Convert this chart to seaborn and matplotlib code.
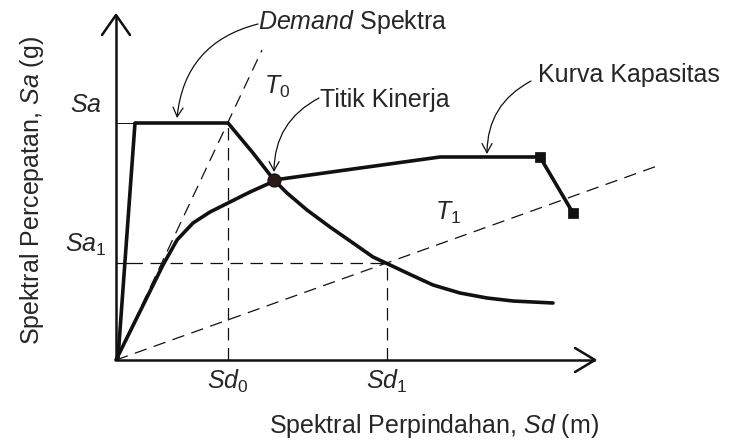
import numpy as np
import pandas as pd
import matplotlib
matplotlib.use("Agg")
import matplotlib.pyplot as plt
import seaborn as sns

# Capacity spectrum method: demand spectrum vs. capacity curve (schematic units)
demand_sd = [2, 19, 112, 137, 158, 171, 191, 214, 237, 257, 272, 291, 317, 344, 371, 397, 437]
demand_sa = [2, 237, 237, 207, 180, 167, 150, 133, 117, 103, 96, 87, 75, 67, 62, 59, 57]

capacity_sd = [0, 47, 61, 77, 94, 114, 134, 154, 158, 237, 324, 424, 457]
capacity_sa = [0, 95, 120, 137, 148, 158, 168, 177, 180, 191, 203, 203, 147]

perf_sd, perf_sa = 158, 180            # performance point (Titik Kinerja)
cap_ends_sd = [424, 457]               # capacity curve end markers
cap_ends_sa = [203, 147]

t0_sd, t0_sa = [0, 146], [0, 310]      # initial period line T0
t1_sd, t1_sa = [0, 544], [0, 195]      # effective period line T1

sd0, sd1 = 112, 271
sa_top, sa1 = 237, 97

sns.set_theme(style="white")
plt.rcParams["font.family"] = ["Liberation Sans", "DejaVu Sans"]
plt.rcParams["mathtext.fontset"] = "custom"
plt.rcParams["mathtext.rm"] = "Liberation Sans"
plt.rcParams["mathtext.it"] = "Liberation Sans:italic"

FS = 18
INK = "#111111"

fig = plt.figure(figsize=(7.31, 4.42), dpi=100)
ax = fig.add_axes([0, 0, 1, 1])
ax.set_xlim(-116, 615)
ax.set_ylim(-82, 360)
ax.axis("off")

line = dict(ax=ax, sort=False, estimator=None, legend=False)
dash = dict(color=INK, lw=0.9, linestyle=(0, (10, 6)))

# period lines
sns.lineplot(x=t0_sd, y=t0_sa, **line, **dash)
sns.lineplot(x=t1_sd, y=t1_sa, **line, **dash)

# reference guides
sns.lineplot(x=[sd0, sd0], y=[0, sa_top], **line, **dash)
sns.lineplot(x=[sd1, sd1], y=[0, sa1], **line, **dash)
sns.lineplot(x=[14, sd1], y=[sa1, sa1], **line, **dash)
sns.lineplot(x=[0, 14], y=[sa1, sa1], **line, color=INK, lw=0.9)
sns.lineplot(x=[0, 19], y=[sa_top, sa_top], **line, color=INK, lw=0.7)

# demand spectrum and capacity curve
demand = pd.DataFrame({"Sd": demand_sd, "Sa": demand_sa})
capacity = pd.DataFrame({"Sd": capacity_sd, "Sa": capacity_sa})
sns.lineplot(data=demand, x="Sd", y="Sa", **line, color=INK, lw=2.6)
sns.lineplot(data=capacity, x="Sd", y="Sa", **line, color=INK, lw=2.6)
for l in ax.lines[-2:]:
    l.set_solid_joinstyle("round")

sns.scatterplot(x=cap_ends_sd, y=cap_ends_sa, ax=ax, marker="s", s=45,
                color=INK, edgecolor=INK, zorder=5)
sns.scatterplot(x=[perf_sd], y=[perf_sa], ax=ax, marker="o", s=90,
                color="#2a1a1a", edgecolor=INK, zorder=6)

# coordinate axes with open arrowheads
ax.plot([0, 0], [0, 345], color=INK, lw=1.8, solid_capstyle="butt")
ax.plot([-14, 0, 14], [325, 345, 325], color=INK, lw=1.8)
ax.plot([0, 479], [0, 0], color=INK, lw=1.8, solid_capstyle="butt")
ax.plot([459, 479, 459], [12, 0, -12], color=INK, lw=1.8)

# tick-like labels
ax.text(-14, 255, r"$\mathit{Sa}$", fontsize=FS, ha="right", va="center")
ax.text(-10, 115, r"$\mathit{Sa}_\mathrm{1}$", fontsize=FS, ha="right", va="center")
ax.text(sd0, -21, r"$\mathit{Sd}_\mathrm{0}$", fontsize=FS, ha="center", va="center")
ax.text(sd1, -21, r"$\mathit{Sd}_\mathrm{1}$", fontsize=FS, ha="center", va="center")
ax.text(161, 273, r"$\mathit{T}_\mathrm{0}$", fontsize=FS, ha="center", va="center")
ax.text(332, 147, r"$\mathit{T}_\mathrm{1}$", fontsize=FS, ha="center", va="center")

# axis titles
ax.text(318, -66, r"Spektral Perpindahan, $\mathit{Sd}$ (m)", fontsize=FS,
        ha="center", va="center")
ax.text(-84, 170, r"Spektral Percepatan, $\mathit{Sa}$ (g)", fontsize=FS,
        ha="center", va="center", rotation=90)

# callouts
arrow = dict(arrowstyle="->,head_length=0.55,head_width=0.3", color=INK, lw=0.9,
             shrinkA=0, shrinkB=0)
ax.text(142, 338, r"$\mathit{Demand}$ Spektra", fontsize=FS, ha="left", va="center")
ax.annotate("", xy=(61, 242), xytext=(142, 336),
            arrowprops=dict(connectionstyle="arc3,rad=0.35", **arrow))
ax.text(204, 260, "Titik Kinerja", fontsize=FS, ha="left", va="center")
ax.annotate("", xy=(158, 188), xytext=(203, 262),
            arrowprops=dict(connectionstyle="arc3,rad=0.3", **arrow))
ax.text(422, 285, "Kurva Kapasitas", fontsize=FS, ha="left", va="center")
ax.annotate("", xy=(371, 206), xytext=(415, 279),
            arrowprops=dict(connectionstyle="arc3,rad=0.3", **arrow))

fig.savefig("out.png", dpi=100, facecolor="white")
